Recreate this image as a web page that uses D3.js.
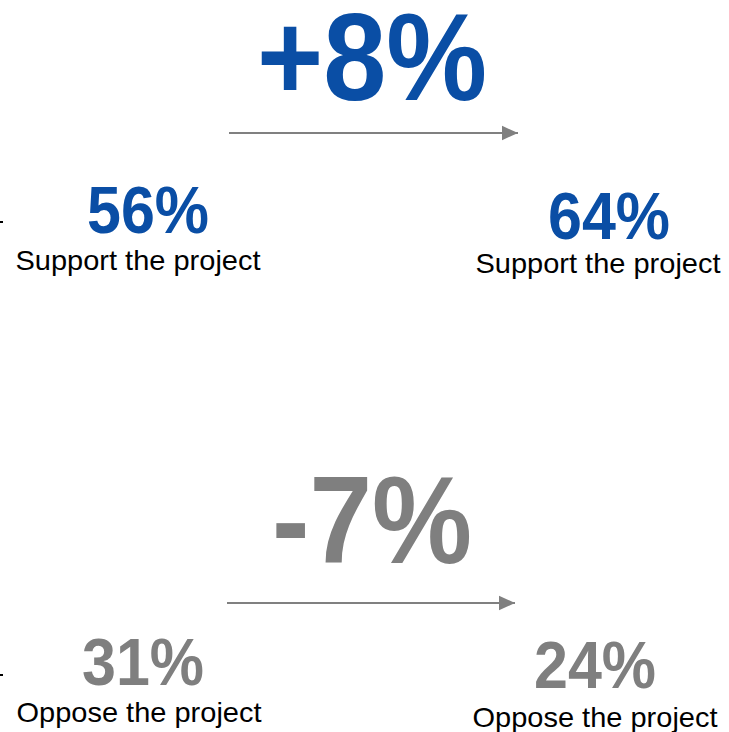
<!DOCTYPE html>
<html>
<head>
<meta charset="utf-8">
<script src="https://cdn.jsdelivr.net/npm/d3@7"></script>
<style>
  html, body { margin: 0; padding: 0; background: #fff; }
  svg { display: block; }
</style>
</head>
<body>
<div id="chart"></div>
<script>
// values
const groups = ["Support the project", "Oppose the project"];
const beforeValues = [56, 31];
const afterValues = [64, 24];
const changeValues = [8, -7];

var width = 729;
var height = 732;

const svg = d3.select("#chart")
    .append("svg")
    .attr("width", width)
    .attr("height", height)
    .style("background-color", "rgb(255,255,255)");

const colorScale = d3.scaleOrdinal()//blue for support, gray for oppose
    .domain(groups)
    .range(["#0a4ea5", "#7f7f7f"]);

const rowY = d3.scalePoint()//vertical position of each block
    .domain(groups)
    .range([0, 460]);

const colX = d3.scalePoint()//before / after columns
    .domain(["before", "after"])
    .range([145, 602]);

const fmtPct = d => d + "%";
const fmtChange = d => (d > 0 ? "+" : "-") + Math.abs(d) + "%";

svg.append("defs").append("marker")
    .attr("id", "head")
    .attr("viewBox", "0 0 10 10")
    .attr("refX", 10)
    .attr("refY", 5)
    .attr("markerUnits", "userSpaceOnUse")
    .attr("markerWidth", 16)
    .attr("markerHeight", 16)
    .attr("orient", "auto")
    .append("path")
    .attr("d", "M0,0.5 L10,5 L0,9.5 Z")
    .attr("fill", "#808080");

const block = svg.selectAll("g.block")
    .data(groups)
    .enter()
    .append("g")
    .attr("class", "block")
    .attr("transform", d => `translate(0,${rowY(d)})`);

// big change number
block.append("text")
    .text((d, i) => fmtChange(changeValues[i]))
    .attr("x", 372)
    .attr("y", (d, i) => i === 0 ? 100 : 103)
    .attr("text-anchor", "middle")
    .attr("fill", d => colorScale(d))
    .attr("textLength", (d, i) => i === 0 ? 230 : 200)
    .attr("lengthAdjust", "spacingAndGlyphs")
    .style("font-family", "Liberation Sans, Arial, sans-serif")
    .style("font-weight", "bold")
    .style("font-size", "124px");

// arrow
block.append("line")
    .attr("x1", (d, i) => i === 0 ? 229 : 227)
    .attr("x2", (d, i) => i === 0 ? 518 : 515)
    .attr("y1", (d, i) => i === 0 ? 133 : 143)
    .attr("y2", (d, i) => i === 0 ? 133 : 143)
    .attr("stroke", "#808080")
    .attr("stroke-width", 2)
    .attr("marker-end", "url(#head)");

// before / after values and their labels (offsets inside each block)
const cols = [
    { key: "before", vals: beforeValues, dx: [3, -2], numY: [233, 225], lx: [-7, -6], labY: [270, 262] },
    { key: "after", vals: afterValues, dx: [7, -7], numY: [239, 228], lx: [-4, -7], labY: [273, 267] }
];

cols.forEach(function (c) {
    block.append("text")
        .text((d, i) => fmtPct(c.vals[i]))
        .attr("x", (d, i) => colX(c.key) + c.dx[i])
        .attr("y", (d, i) => c.numY[i])
        .attr("text-anchor", "middle")
        .attr("fill", d => colorScale(d))
        .attr("textLength", 122)
        .attr("lengthAdjust", "spacingAndGlyphs")
        .style("font-family", "Liberation Sans, Arial, sans-serif")
        .style("font-weight", "bold")
        .style("font-size", "66px");

    block.append("text")
        .text(d => d)
        .attr("x", (d, i) => colX(c.key) + c.lx[i])
        .attr("y", (d, i) => c.labY[i])
        .attr("text-anchor", "middle")
        .attr("fill", "#000")
        .attr("textLength", 245)
        .attr("lengthAdjust", "spacingAndGlyphs")
        .style("font-family", "Liberation Sans, Arial, sans-serif")
        .style("font-size", "28px");
});

// little cut-off marks at the left edge
block.append("rect")
    .attr("x", 0)
    .attr("y", (d, i) => i === 0 ? 221 : 214)
    .attr("width", 3)
    .attr("height", 2)
    .attr("fill", "#000");
</script>
</body>
</html>
